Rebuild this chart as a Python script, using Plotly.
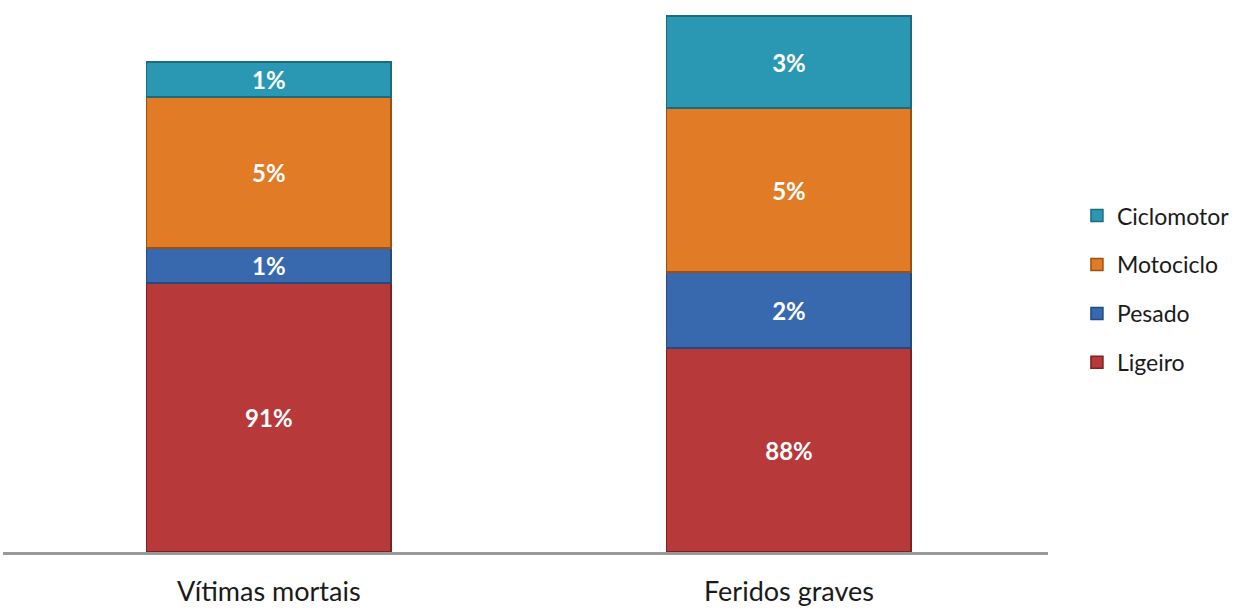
import plotly.graph_objects as go

categories = ["Vítimas mortais", "Feridos graves"]
series_names = ["Ligeiro", "Pesado", "Motociclo", "Ciclomotor"]
# drawn segment heights (chart units)
ligeiro = [269, 204]
pesado = [35, 76]
motociclo = [151, 164]
ciclomotor = [35, 92]
# percentage labels shown on the segments
ligeiro_lbl = ["91%", "88%"]
pesado_lbl = ["1%", "2%"]
motociclo_lbl = ["5%", "5%"]
ciclomotor_lbl = ["1%", "3%"]

colors = ["#B7393A", "#3868AE", "#E27B26", "#2B98B3"]
edges = ["#7A2222", "#244A7E", "#9A5015", "#1C6A7E"]

values = [ligeiro, pesado, motociclo, ciclomotor]
labels = [ligeiro_lbl, pesado_lbl, motociclo_lbl, ciclomotor_lbl]
ranks = [4, 3, 2, 1]

fig = go.Figure()
for i, name in enumerate(series_names):
    fig.add_trace(go.Bar(
        x=categories, y=values[i], name=name, text=labels[i],
        textposition="inside", insidetextanchor="middle", textangle=0,
        textfont=dict(color="white", size=24, family="Lato", weight="bold"),
        marker=dict(color=colors[i], line=dict(color=edges[i], width=1.5)),
        legendgroup=name, legendrank=ranks[i],
    ))

fig.update_layout(
    barmode="stack", bargap=0.53,
    width=1237, height=612,
    margin=dict(l=3, r=189, t=10, b=60, autoexpand=False),
    paper_bgcolor="white", plot_bgcolor="white",
    font=dict(family="Lato", color="#1a1a1a"),
    legend=dict(x=1.0277, y=0.485, xanchor="left", yanchor="middle",
                traceorder="grouped", tracegroupgap=16,
                font=dict(size=23, color="#1a1a1a")),
    uniformtext=dict(mode=False),
)
fig.update_xaxes(range=[-0.511, 1.498], showline=True, linecolor="#9a9a9a", linewidth=3,
                 ticks="", tickfont=dict(size=27, color="#1a1a1a"), ticklabelstandoff=14,
                 showgrid=False, automargin=False)
fig.update_yaxes(range=[0, 542], visible=False, showgrid=False, automargin=False)

fig.write_html("out.html", config={"displayModeBar": False},
               post_script="document.body.style.margin='0px';")
